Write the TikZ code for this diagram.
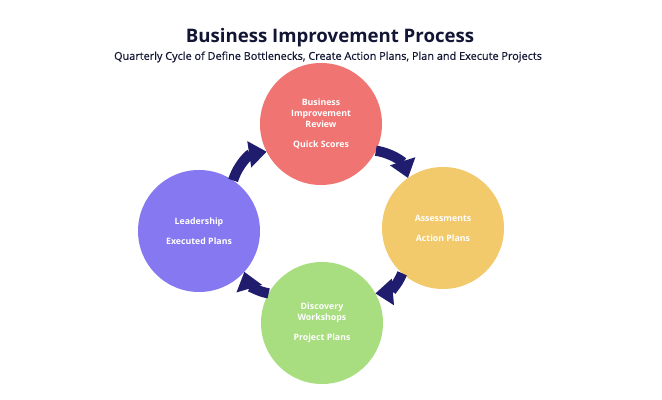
\documentclass[tikz,border=0pt]{standalone}
\usepackage{fontspec}
\setmainfont{Open Sans}
\newfontfamily\subfont{Open Sans}[FakeBold=0.5]
\usepackage{xcolor}
\definecolor{bpnavy}{RGB}{18,22,52}
\definecolor{bparrow}{RGB}{33,29,110}
\definecolor{bpred}{RGB}{240,116,114}
\definecolor{bpyellow}{RGB}{242,201,107}
\definecolor{bppurple}{RGB}{134,120,240}
\definecolor{bpgreen}{RGB}{168,222,128}
\usetikzlibrary{arrows.meta,positioning}

\tikzset{
  stage/.style={circle, minimum size=2.44cm, inner sep=0pt, outer sep=0pt,
    text=white, font=\fontsize{5}{6.2}\selectfont\bfseries, align=center},
  cycarrow/.style={bparrow, line width=5.8pt,
    -{Triangle[width=14.5pt,length=10pt]}, bend left=32}
}

\begin{document}
\begin{tikzpicture}
  \useasboundingbox (0,0) rectangle (13.24,8);
  \fill[white] (0,0) rectangle (13.24,8);

  % Title
  \node[font=\fontsize{10.6}{12}\selectfont\bfseries, text=bpnavy] (title) at (6.60,7.24) {Business Improvement Process};
  \node[font=\fontsize{6.2}{7}\subfont, text=bpnavy] (subtitle) at (6.56,6.86) {Quarterly Cycle of Define Bottlenecks, Create Action Plans, Plan and Execute Projects};

  % Stages
  \node[stage, fill=bpred] (review) at (6.42,5.52) {Business\\Improvement\\Review\\[5.2pt]Quick Scores};
  \node[stage, fill=bpyellow] (assess) at (8.86,3.44) {Assessments\\[5.2pt]Action Plans};
  \node[stage, fill=bpgreen] (discovery) at (6.44,1.54) {Discovery\\Workshops\\[5.2pt]Project Plans};
  \node[stage, fill=bppurple] (leader) at (3.98,3.38) {Leadership\\[5.2pt]Executed Plans};

  % Cycle arrows
  \draw[cycarrow] (review.-26) to (assess.125);
  \draw[cycarrow] (assess.228) to (discovery.29);
  \draw[cycarrow] (discovery.151) to (leader.-42);
  \draw[cycarrow] (leader.56) to (review.207);
\end{tikzpicture}
\end{document}
